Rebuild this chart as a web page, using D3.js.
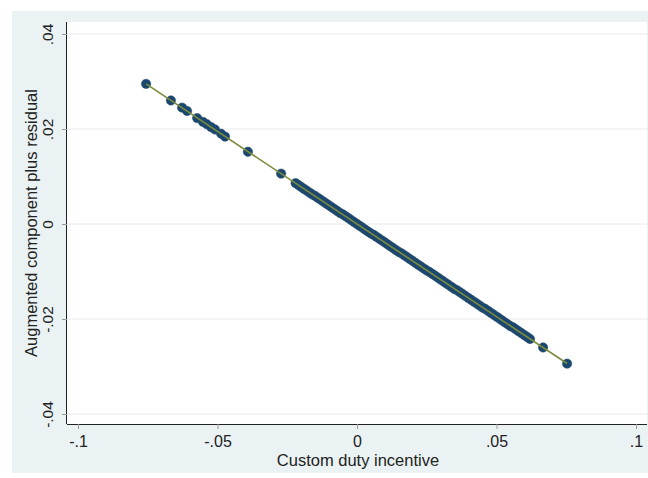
<!DOCTYPE html>
<html>
<head>
<meta charset="utf-8">
<script src="https://cdn.jsdelivr.net/npm/d3@7"></script>
<style>
  body { margin: 0; background: #fff; overflow: hidden; }
  text { font-family: "Liberation Sans", Arial, sans-serif; }
</style>
</head>
<body>
<div id="chart"></div>
<script>
// custom duty incentive (x) and augmented component plus residual (y)
var dutyX = [-0.0756, -0.0667, -0.0627, -0.0609, -0.0573, -0.0552, -0.0538, -0.0523, -0.0509,
  -0.0487, -0.0473, -0.0391, -0.0272,
  -0.022, -0.021, -0.020, -0.019, -0.018, -0.017, -0.016, -0.015, -0.014, -0.013, -0.012,
  -0.011, -0.010, -0.009, -0.008, -0.007, -0.006, -0.005, -0.004, -0.003, -0.002, -0.001,
  0.000, 0.001, 0.002, 0.003, 0.004, 0.005, 0.006, 0.007, 0.008, 0.009, 0.010, 0.011,
  0.012, 0.013, 0.014, 0.015, 0.016, 0.017, 0.018, 0.019, 0.020, 0.021, 0.022, 0.023,
  0.024, 0.025, 0.026, 0.027, 0.028, 0.029, 0.030, 0.031, 0.032, 0.033, 0.034, 0.035,
  0.036, 0.037, 0.038, 0.039, 0.040, 0.041, 0.042, 0.043, 0.044, 0.045, 0.046, 0.047,
  0.048, 0.049, 0.050, 0.051, 0.052, 0.053, 0.054, 0.055, 0.056, 0.057, 0.058, 0.059,
  0.060, 0.061, 0.062, 0.0667, 0.0753];
var residY = [0.0295, 0.0260, 0.0245, 0.0238, 0.0223, 0.0215, 0.0210, 0.0204, 0.0199,
  0.0190, 0.0184, 0.0152, 0.0106,
  0.0086, 0.0082, 0.0078, 0.0074, 0.0070, 0.0066, 0.0062, 0.0059, 0.0055, 0.0051, 0.0047,
  0.0043, 0.0039, 0.0035, 0.0031, 0.0027, 0.0023, 0.0020, 0.0016, 0.0012, 0.0008, 0.0004,
  0.0000, -0.0004, -0.0008, -0.0012, -0.0016, -0.0020, -0.0023, -0.0027, -0.0031, -0.0035, -0.0039, -0.0043,
  -0.0047, -0.0051, -0.0055, -0.0059, -0.0062, -0.0066, -0.0070, -0.0074, -0.0078, -0.0082, -0.0086, -0.0090,
  -0.0094, -0.0098, -0.0101, -0.0105, -0.0109, -0.0113, -0.0117, -0.0121, -0.0125, -0.0129, -0.0133, -0.0137,
  -0.0140, -0.0144, -0.0148, -0.0152, -0.0156, -0.0160, -0.0164, -0.0168, -0.0172, -0.0176, -0.0179, -0.0183,
  -0.0187, -0.0191, -0.0195, -0.0199, -0.0203, -0.0207, -0.0211, -0.0215, -0.0218, -0.0222, -0.0226, -0.0230,
  -0.0234, -0.0238, -0.0242, -0.0260, -0.0294];

// fitted line
var fitSlope = -0.39;
var fitIntercept = 0;

var xTicks = [-0.1, -0.05, 0, 0.05, 0.1];
var xTickLabels = ["-.1", "-.05", "0", ".05", ".1"];
var yTicks = [-0.04, -0.02, 0, 0.02, 0.04];
var yTickLabels = ["-.04", "-.02", "0", ".02", ".04"];

var width = 648;
var height = 478;

var svg = d3.select("#chart").append("svg")
    .attr("width", width)
    .attr("height", height)
    .style("display", "block");

// outer graph region
svg.append("rect")
    .attr("x", 12).attr("y", 11)
    .attr("width", 636).attr("height", 462)
    .attr("fill", "#eaf2f3");

var plotL = 67, plotR = 647, plotT = 22, plotB = 424;

svg.append("rect")
    .attr("x", plotL).attr("y", plotT)
    .attr("width", plotR - plotL).attr("height", plotB - plotT)
    .attr("fill", "#ffffff");

var x = d3.scaleLinear().domain([-0.1, 0.1]).range([78, 636]);
var y = d3.scaleLinear().domain([-0.04, 0.04]).range([414, 34]);

// grid
svg.append("g").selectAll("line")
    .data(yTicks).enter().append("line")
    .attr("x1", plotL).attr("x2", plotR)
    .attr("y1", function(d) { return y(d); })
    .attr("y2", function(d) { return y(d); })
    .attr("stroke", "#eaeaea")
    .attr("stroke-width", 1);

// axes
var xAxis = svg.append("g")
    .attr("transform", "translate(0," + plotB + ")")
    .call(d3.axisBottom(x).tickValues(xTicks)
        .tickFormat(function(d, i) { return xTickLabels[i]; })
        .tickSize(5));
xAxis.select(".domain").attr("d", "M" + plotL + ",0.5H" + plotR).attr("stroke", "#222");
xAxis.selectAll(".tick line").attr("stroke", "#999");
xAxis.selectAll(".tick text").attr("font-size", "16px").attr("fill", "#222")
    .attr("font-family", "Liberation Sans, Arial, sans-serif")
    .attr("y", 23).attr("dy", null);

var yAxis = svg.append("g")
    .attr("transform", "translate(" + plotL + ",0)")
    .call(d3.axisLeft(y).tickValues(yTicks)
        .tickFormat(function(d, i) { return yTickLabels[i]; })
        .tickSize(5));
yAxis.select(".domain").attr("d", "M-0.5," + plotT + "V" + plotB).attr("stroke", "#222");
yAxis.selectAll(".tick line").attr("stroke", "#999");
yAxis.selectAll(".tick text")
    .attr("font-size", "15.5px").attr("fill", "#222")
    .attr("font-family", "Liberation Sans, Arial, sans-serif")
    .attr("x", null).attr("dy", null)
    .attr("text-anchor", "middle")
    .attr("transform", "translate(-14,0) rotate(-90)");

// fitted line
var xExt = d3.extent(dutyX);
var line = d3.line()
    .x(function(d) { return x(d); })
    .y(function(d) { return y(fitIntercept + fitSlope * d); });

// points
svg.append("g").selectAll("circle")
    .data(dutyX).enter().append("circle")
    .attr("cx", function(d) { return x(d); })
    .attr("cy", function(d, i) { return y(residY[i]); })
    .attr("r", 4.7)
    .attr("fill", "#1a476f")
    .attr("stroke", "#2a4f6f")
    .attr("stroke-width", 0.5);

svg.append("path")
    .datum(xExt)
    .attr("d", line)
    .attr("fill", "none")
    .attr("stroke", "#7d8c3c")
    .attr("stroke-width", 1.6);

// titles
svg.append("text")
    .attr("x", x(0) + 1)
    .attr("y", 466)
    .attr("text-anchor", "middle")
    .attr("font-size", "16.5px")
    .attr("fill", "#222")
    .text("Custom duty incentive");

svg.append("text")
    .attr("transform", "translate(37," + ((plotT + plotB) / 2) + ") rotate(-90)")
    .attr("text-anchor", "middle")
    .attr("font-size", "16.5px")
    .attr("fill", "#222")
    .text("Augmented component plus residual");
</script>
</body>
</html>
